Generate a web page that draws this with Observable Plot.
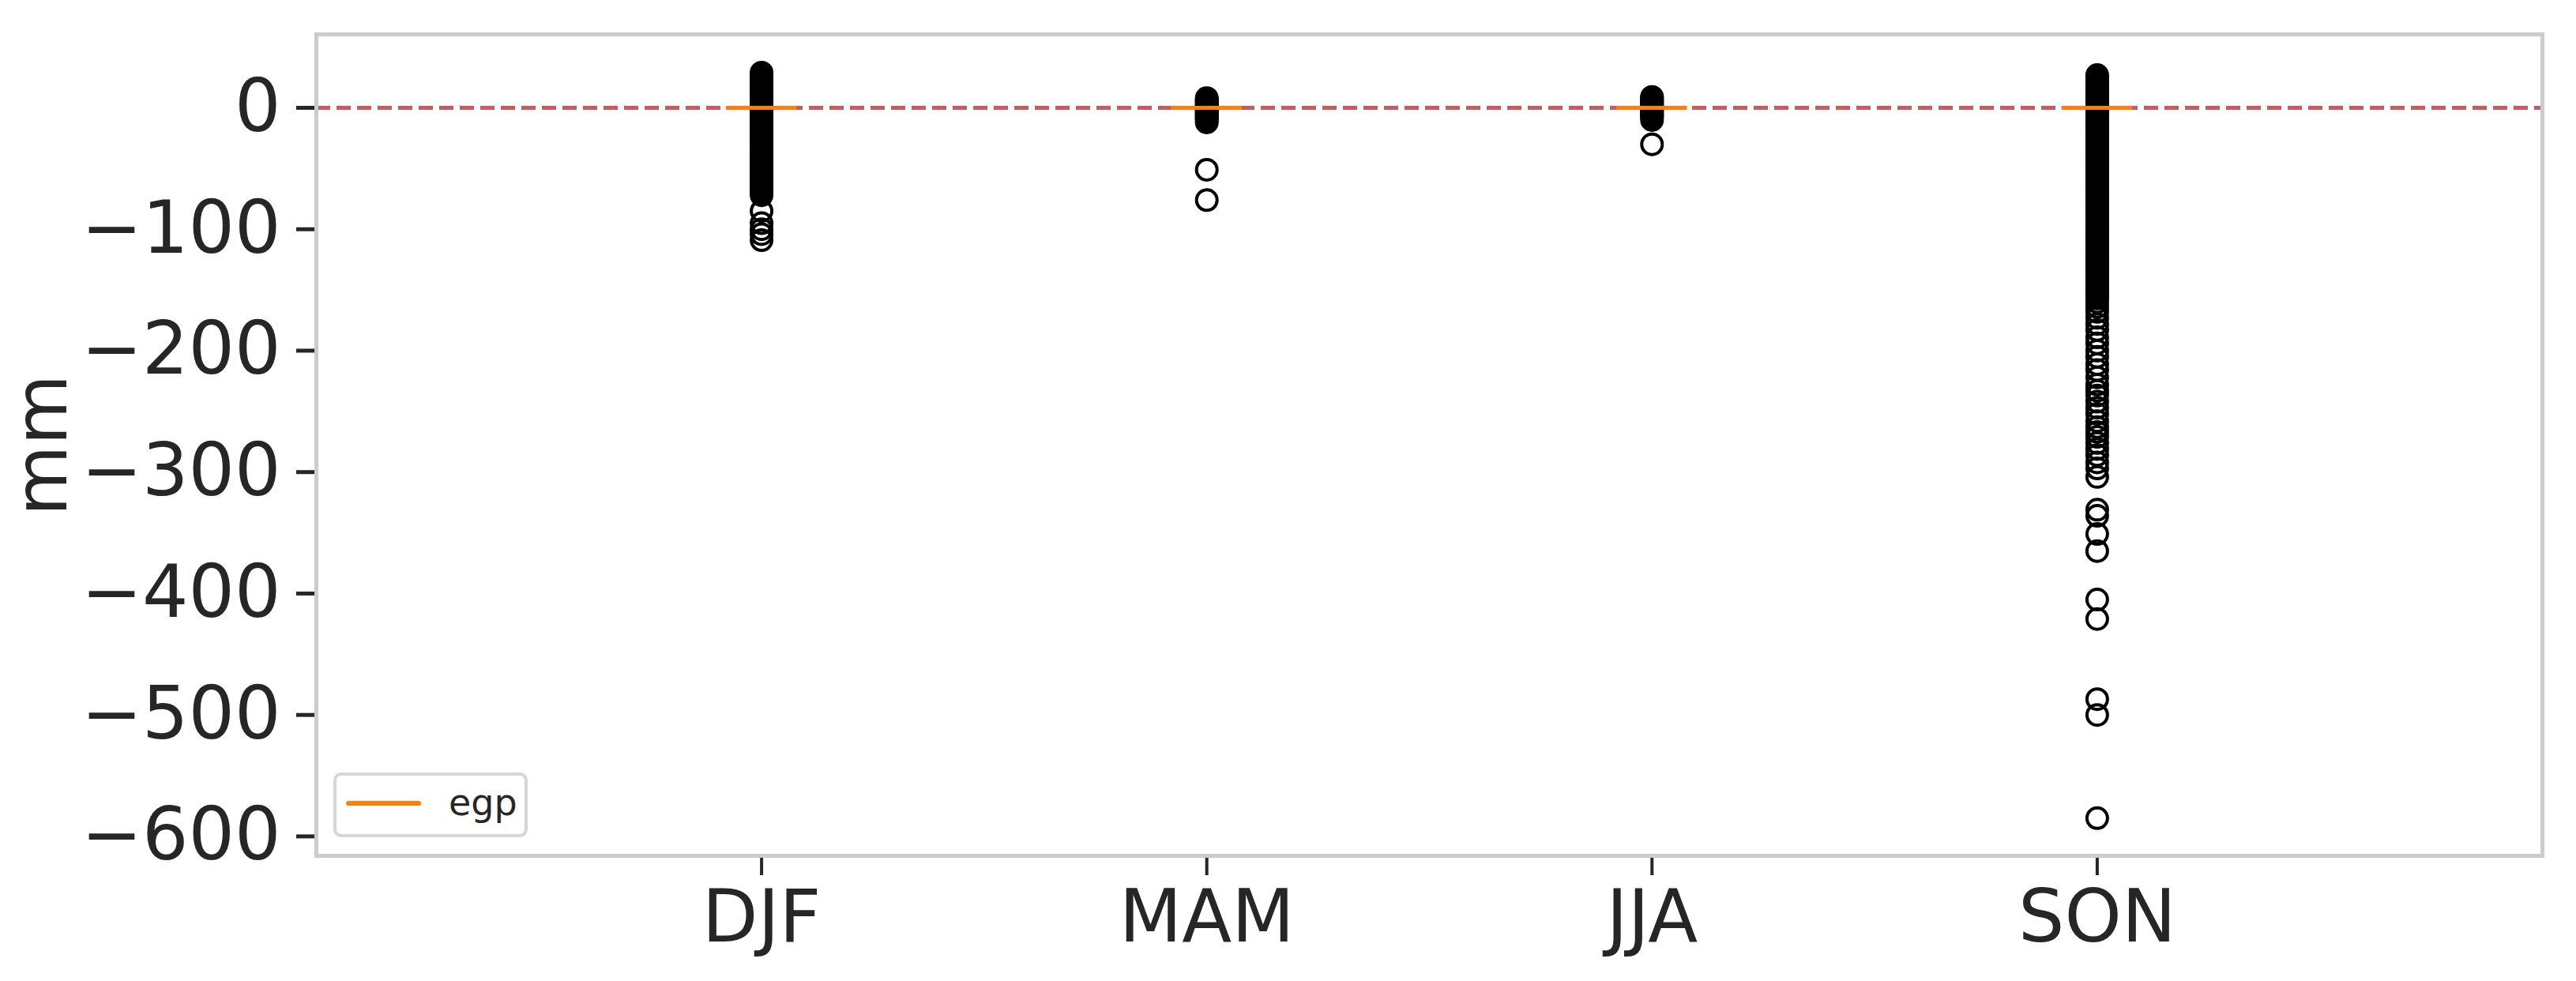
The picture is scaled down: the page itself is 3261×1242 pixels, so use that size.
<!DOCTYPE html>
<html><head><meta charset="utf-8">
<script src="https://cdn.jsdelivr.net/npm/d3@7"></script>
<script src="https://cdn.jsdelivr.net/npm/@observablehq/plot@0.6"></script>
<style>
html,body{margin:0;padding:0;background:#fff;}
#chart{position:relative;width:3261px;height:1242px;font-family:"DejaVu Sans",sans-serif;}
#legend{position:absolute;left:422px;top:978px;width:246px;height:82px;border:4px solid #d6d6d6;border-radius:10px;background:#fff;box-sizing:border-box;}
#legend .ln{position:absolute;left:12px;top:32px;width:95px;height:6px;background:#ff7f0e;border-radius:3px;}
#legend .tx{position:absolute;left:142px;top:11px;font-size:46px;line-height:46px;color:#262626;font-family:"DejaVu Sans",sans-serif;}
</style></head>
<body>
<div id="chart"><div id="legend"><div class="ln"></div><div class="tx"></div></div></div>
<script>
const seasons = ["DJF", "MAM", "JJA", "SON"];
const positions = [1, 2, 3, 4];
const medians = [0, 0, 0, 0];
const djfFliers = [29, 27, 25, 23, 21, 19, 17, 15, 13, 11, 9, 7, 5, 4, 3, 2, 1, -1, -2, -3, -4, -5, -6, -8, -10, -12, -14, -16, -18, -20, -22, -24, -26, -28, -30, -32, -34, -36, -38, -40, -42, -44, -46, -48, -50, -52, -54, -56, -58, -60, -62, -64, -66, -68, -70, -72, -85, -95, -100, -104, -109];
const mamFliers = [8, 7, 6, 5, 4, 3, 2, 1, -1, -2, -3, -4, -5, -6, -7, -8, -9, -10, -12, -51, -76];
const jjaFliers = [9, 8, 7, 6, 5, 4, 3, 2, 1, -1, -2, -3, -4, -5, -6, -7, -8, -10, -30];
const sonFliers = [27, 25, 23, 21, 19, 17, 15, 13, 11, 9, 7, 5, 3, 1, -1, -3, -5, -7, -9, -11, -13, -15, -17, -19, -21, -23, -25, -27, -29, -31, -33, -35, -37, -39, -41, -43, -45, -47, -49, -51, -53, -55, -57, -59, -61, -63, -65, -67, -69, -71, -73, -75, -77, -79, -81, -83, -85, -87, -89, -91, -93, -95, -97, -99, -101, -103, -105, -107, -109, -111, -113, -115, -117, -119, -121, -123, -125, -127, -129, -131, -133, -135, -137, -139, -141, -143, -145, -147, -149, -151, -153, -155, -157, -160, -164, -168, -173, -178, -183, -189, -194, -200, -205, -211, -216, -222, -228, -233, -237, -242, -247, -252, -258, -263, -267, -271, -276, -281, -286, -292, -297, -304, -331, -336, -351, -365, -405, -421, -487, -500, -585];
const yTicks = [0, -100, -200, -300, -400, -500, -600];
const refLine = [0];
const legendLabel = "egp";
const yLabel = "mm";

const fliers = [djfFliers, mamFliers, jjaFliers, sonFliers];
const flierRows = fliers.flatMap((arr, i) => arr.map(v => ({pos: positions[i], v})));
const medianRows = medians.map((m, i) => ({pos: positions[i], m}));
const boxWidth = 0.15;

const chart = Plot.plot({
  width: 3261, height: 1242,
  marginLeft: 400, marginRight: 43, marginTop: 43, marginBottom: 159,
  style: {fontFamily: "DejaVu Sans", fontSize: "92px", color: "#262626", background: "#fff"},
  x: {type: "linear", domain: [0, 5]},
  y: {domain: [-616, 60.5]},
  marks: [
    Plot.ruleY(refLine, {stroke: "#c85a62", strokeWidth: 5, strokeDasharray: "18,8"}),
    Plot.dot(flierRows, {x: "pos", y: "v", r: 13, stroke: "#000", strokeWidth: 4, fill: "none"}),
    Plot.ruleY(medianRows, {y: "m", x1: d => d.pos - boxWidth / 2, x2: d => d.pos + boxWidth / 2, stroke: "#ff7f0e", strokeWidth: 5, strokeLinecap: "square"}),
    Plot.axisX({ticks: positions, tickFormat: d => seasons[positions.indexOf(d)], tickSize: 25, tickPadding: 18, fontSize: 92, strokeWidth: 4, label: null}),
    Plot.axisY({ticks: yTicks, tickSize: 25, tickPadding: 20, fontSize: 92, strokeWidth: 5, label: yLabel, labelAnchor: "center", labelArrow: "none", labelOffset: 382}),
    Plot.frame({stroke: "#cccccc", strokeWidth: 5})
  ]
});
document.getElementById("chart").prepend(chart);
document.querySelector("#legend .tx").textContent = legendLabel;
</script>
</body></html>
